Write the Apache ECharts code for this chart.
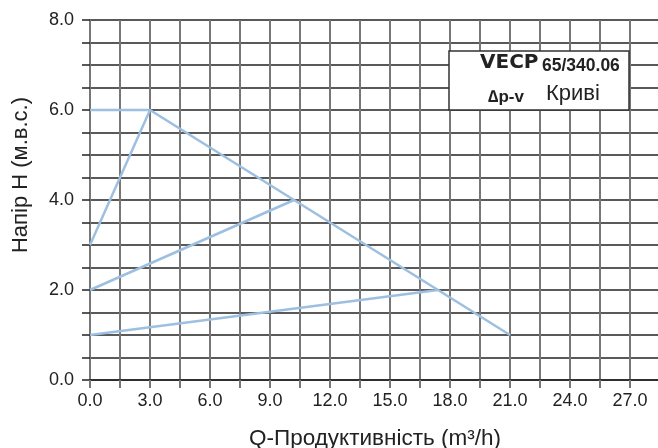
<!DOCTYPE html>
<html><head><meta charset="utf-8">
<script src="https://cdn.jsdelivr.net/npm/echarts@6/dist/echarts.min.js"></script>
<style>html,body{margin:0;padding:0;background:#fff}#c{width:658px;height:448px}</style>
</head><body><div id="c"></div>
<script>
// Data
const curveMax = [[0, 6.0], [3.0, 6.0], [21.0, 1.0]];
const curveMaxRise = [[0, 3.0], [3.0, 6.0]];
const curveMid = [[0, 2.0], [10.2, 4.0]];
const curveLow = [[0, 1.0], [17.4, 2.0]];
const xTitle = 'Q-Продуктивність (m³/h)';
const yTitle = 'Напір H (м.в.с.)';
const boxTitle = 'VECP';
const boxModel = '65/340.06';
const boxMode = '∆p-v';
const boxCurves = 'Криві';

const chart = echarts.init(document.getElementById('c'), null, {renderer: 'canvas'});
const lineColor = '#9dbfe0';
const F = 'Liberation Sans, Arial, Helvetica, sans-serif';
function s(data) {
  return {type: 'line', data: data, symbol: 'none', lineStyle: {color: lineColor, width: 2.5}, z: 3, animation: false};
}
chart.setOption({
  animation: false,
  grid: {left: 90, top: 20, width: 570, height: 360, containLabel: false, outerBoundsMode: 'none'},
  xAxis: {
    type: 'value', min: 0, max: 28.5, interval: 1.5,
    name: xTitle, nameLocation: 'middle', nameGap: 47,
    nameTextStyle: {fontFamily: F, fontSize: 22.5, color: '#222'},
    axisLine: {show: true, lineStyle: {color: '#222', width: 1.5}},
    axisTick: {show: true, length: 8, lineStyle: {color: '#777', width: 2}},
    axisLabel: {fontFamily: F, fontSize: 18, color: '#222', margin: 12,
      formatter: v => (Math.abs(v / 3 - Math.round(v / 3)) < 1e-6 ? v.toFixed(1) : '')},
    splitLine: {show: true, lineStyle: {color: '#777', width: 2}}
  },
  yAxis: {
    type: 'value', min: 0, max: 8, interval: 0.5,
    axisLine: {show: true, lineStyle: {color: '#777', width: 2}},
    axisTick: {show: true, length: 8, lineStyle: {color: '#222', width: 1.5}},
    axisLabel: {fontFamily: F, fontSize: 18, color: '#222', margin: 16,
      formatter: v => (Math.abs(v / 2 - Math.round(v / 2)) < 1e-6 ? v.toFixed(1) : '')},
    splitLine: {show: true, lineStyle: {color: '#222', width: 1.5}}
  },
  series: [s(curveMax), s(curveMaxRise), s(curveMid), s(curveLow)],
  graphic: [
    {type: 'text', z: 11, x: 21, y: 175, rotation: Math.PI / 2,
     style: {text: yTitle, font: '22px ' + F, fill: '#222', textAlign: 'center', textVerticalAlign: 'middle'}},
    {type: 'rect', z: 10, shape: {x: 449, y: 51, width: 180, height: 59},
     style: {fill: '#fff', stroke: '#333', lineWidth: 1.5}},
    {type: 'text', z: 11, x: 480, y: 63, style: {text: boxTitle, font: 'bold 20px DejaVu Sans, ' + F, fill: '#222', textVerticalAlign: 'middle'}},
    {type: 'text', z: 11, x: 542, y: 66.5, style: {text: boxModel, font: 'bold 17.5px ' + F, fill: '#222', textVerticalAlign: 'middle'}},
    {type: 'text', z: 11, x: 488, y: 97, style: {text: boxMode, font: 'bold 17px ' + F, fill: '#222', textVerticalAlign: 'middle'}},
    {type: 'text', z: 11, x: 546, y: 94, style: {text: boxCurves, font: '22px ' + F, fill: '#222', textVerticalAlign: 'middle'}}
  ]
});
</script></body></html>
